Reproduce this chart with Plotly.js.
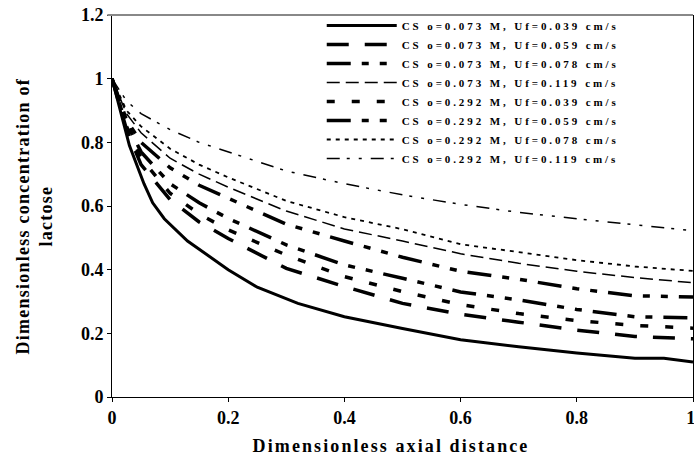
<!DOCTYPE html>
<html>
<head>
<meta charset="utf-8">
<script src="https://cdn.plot.ly/plotly-3.0.1.min.js"></script>
<style>
  body { margin: 0; background: #fff; }
  #chart { width: 694px; height: 456px; }
  .legendtext { letter-spacing: 2.9px; }
  g.annotation[data-index="0"] text { letter-spacing: 2.1px; }
  g.annotation[data-index="1"] text { letter-spacing: 1.25px; }
</style>
</head>
<body>
<div id="chart"></div>
<script>
// Series names (legend)
const seriesNames = [
  "CS o=0.073 M, Uf=0.039 cm/s",
  "CS o=0.073 M, Uf=0.059 cm/s",
  "CS o=0.073 M, Uf=0.078 cm/s",
  "CS o=0.073 M, Uf=0.119 cm/s",
  "CS o=0.292 M, Uf=0.039 cm/s",
  "CS o=0.292 M, Uf=0.059 cm/s",
  "CS o=0.292 M, Uf=0.078 cm/s",
  "CS o=0.292 M, Uf=0.119 cm/s"
];

const xTitle = "Dimensionless axial distance";
const yTitle = "Dimensionless concentration of<br>lactose";

// Dimensionless axial distance
const xSolid = [0, 0.01, 0.03, 0.055, 0.07, 0.09, 0.13, 0.2, 0.25, 0.32, 0.4, 0.5, 0.6, 0.7, 0.8, 0.9, 0.95, 1];
const xCommon = [0, 0.025, 0.05, 0.1, 0.15, 0.2, 0.3, 0.4, 0.5, 0.6, 0.7, 0.8, 0.9, 1];

// Dimensionless concentration of lactose
const c073_039 = [1, 0.93, 0.79, 0.67, 0.61, 0.56, 0.49, 0.40, 0.345, 0.294, 0.252, 0.215, 0.18, 0.158, 0.138, 0.122, 0.122, 0.11];
const c073_059 = [1, 0.84, 0.73, 0.62, 0.55, 0.498, 0.404, 0.347, 0.294, 0.26, 0.235, 0.21, 0.19, 0.183];
const c073_078 = [1, 0.87, 0.80, 0.72, 0.665, 0.624, 0.543, 0.49, 0.439, 0.395, 0.37, 0.34, 0.318, 0.314];
const c073_119 = [1, 0.89, 0.83, 0.75, 0.70, 0.659, 0.584, 0.528, 0.49, 0.45, 0.42, 0.395, 0.375, 0.359];
const c292_039 = [1, 0.85, 0.75, 0.64, 0.575, 0.525, 0.446, 0.378, 0.331, 0.29, 0.262, 0.24, 0.225, 0.216];
const c292_059 = [1, 0.86, 0.77, 0.67, 0.61, 0.561, 0.478, 0.415, 0.373, 0.33, 0.305, 0.275, 0.252, 0.249];
const c292_078 = [1, 0.90, 0.85, 0.78, 0.73, 0.69, 0.616, 0.565, 0.527, 0.48, 0.455, 0.43, 0.41, 0.396];
const c292_119 = [1, 0.93, 0.89, 0.84, 0.80, 0.77, 0.71, 0.67, 0.635, 0.605, 0.58, 0.56, 0.54, 0.522];

const xTickVals = [0, 0.2, 0.4, 0.6, 0.8, 1];
const xTickText = ["0", "0.2", "0.4", "0.6", "0.8", "1\u00a0"];
const yTickVals = [0, 0.2, 0.4, 0.6, 0.8, 1, 1.2];
const yTickText = ["0", "0.2", "0.4", "0.6", "0.8", "1", "1.2"];

const ySeries = [c073_039, c073_059, c073_078, c073_119, c292_039, c292_059, c292_078, c292_119];
const xSeries = [xSolid, xCommon, xCommon, xCommon, xCommon, xCommon, xCommon, xCommon];

const styles = [
  {width: 3, dash: "solid"},
  {width: 3.5, dash: "22px,16px"},
  {width: 3.5, dash: "24px,11px,7px,11px,7px,11px"},
  {width: 1.5, dash: "13px,6px"},
  {width: 3.5, dash: "8px,17px"},
  {width: 3.5, dash: "24px,11px,7px,11px,7px,11px"},
  {width: 1.8, dash: "4px,5px"},
  {width: 1.5, dash: "13px,7px,3px,9px,3px,9px"}
];

const traces = ySeries.map((y, i) => ({
  type: "scatter",
  mode: "lines",
  name: seriesNames[i],
  x: xSeries[i],
  y: y,
  line: {color: "#000", width: styles[i].width, dash: styles[i].dash},
  hoverinfo: "skip"
}));

const fontFam = "'Liberation Serif', 'Times New Roman', serif";

const layout = {
  width: 694,
  height: 456,
  margin: {l: 112, r: 1, t: 15, b: 59, pad: 0},
  paper_bgcolor: "#fff",
  plot_bgcolor: "#fff",
  font: {family: fontFam, color: "#000"},
  showlegend: true,
  legend: {
    x: 0.361, y: 1.0105, xanchor: "left", yanchor: "top",
    bgcolor: "rgba(0,0,0,0)",
    borderwidth: 0,
    itemwidth: 70,
    font: {family: fontFam, size: 11, weight: "bold", color: "#000"}
  },
  xaxis: {
    range: [0, 1],
    tickvals: xTickVals,
    ticktext: xTickText,
    ticks: "outside", ticklen: 4, tickcolor: "#000", tickwidth: 1,
    showline: true, linecolor: "#000", linewidth: 1,
    mirror: false,
    showgrid: false, zeroline: false,
    ticklabeloverflow: "allow",
    tickfont: {family: fontFam, size: 18, weight: "bold"}
  },
  yaxis: {
    range: [0, 1.2],
    tickvals: yTickVals,
    ticktext: yTickText,
    ticks: "outside", ticklen: 4, tickcolor: "#000", tickwidth: 1,
    showline: true, linecolor: "#000", linewidth: 1,
    mirror: true,
    showgrid: false, zeroline: false,
    ticklabeloverflow: "allow",
    tickfont: {family: fontFam, size: 18, weight: "bold"}
  },
  annotations: [
    {text: xTitle, xref: "paper", yref: "paper", x: 0.481, y: -0.127, xanchor: "center", yanchor: "middle",
     showarrow: false, font: {family: fontFam, size: 18, weight: "bold", color: "#000"}},
    {text: yTitle, xref: "paper", yref: "paper", x: -0.133, y: 0.474, xanchor: "center", yanchor: "middle",
     textangle: -90, showarrow: false, font: {family: fontFam, size: 18, weight: "bold", color: "#000"}}
  ],
  shapes: [
    {type: "line", xref: "paper", yref: "paper", x0: -0.008, x1: 1, y0: 1, y1: 1, line: {color: "#888", width: 2}}
  ]
};

Plotly.newPlot("chart", traces, layout, {staticPlot: true, displayModeBar: false});
</script>
</body>
</html>
